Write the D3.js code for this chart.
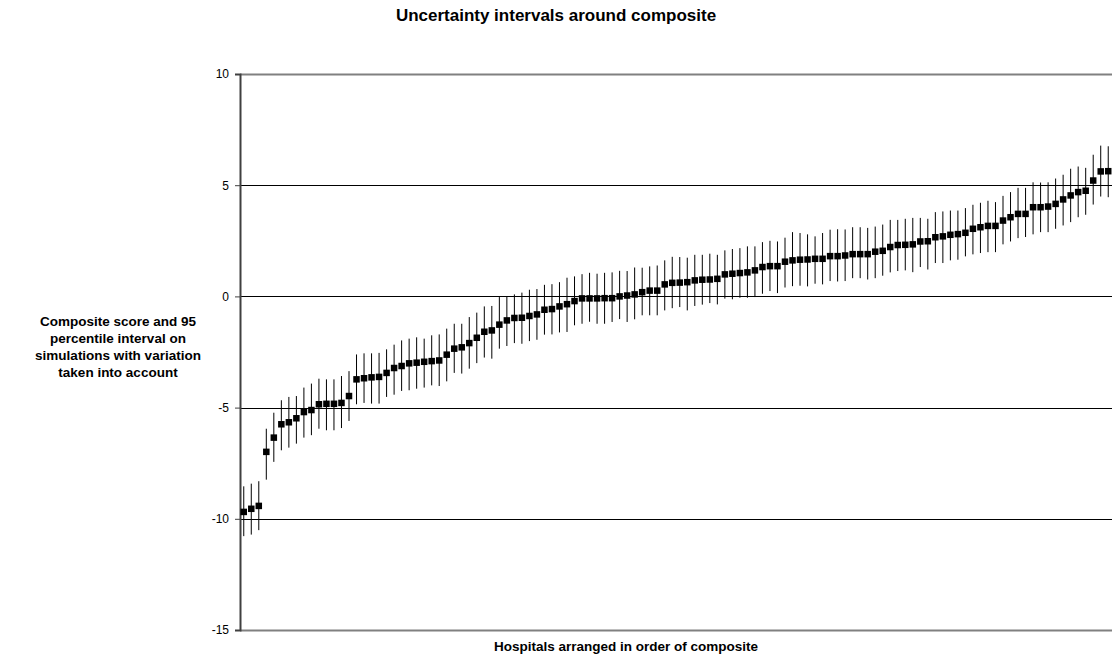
<!DOCTYPE html>
<html>
<head>
<meta charset="utf-8">
<script src="https://cdn.jsdelivr.net/npm/d3@7"></script>
<style>
    body { margin: 0; background: #fff; }
    svg { display: block; font-family: Arial, "Liberation Sans", sans-serif; }
</style>
</head>
<body>
<div id="chart"></div>
<script>
// composite score per hospital, already sorted
const composite = [
    -9.69, -9.55, -9.42, -6.99, -6.35, -5.75, -5.66, -5.48, -5.20, -5.11,
    -4.85, -4.83, -4.83, -4.79, -4.48, -3.73, -3.68, -3.64, -3.62, -3.44,
    -3.22, -3.13, -3.01, -2.98, -2.94, -2.91, -2.88, -2.62, -2.35, -2.29,
    -2.10, -1.86, -1.59, -1.53, -1.27, -1.08, -0.97, -0.96, -0.88, -0.81,
    -0.60, -0.57, -0.45, -0.35, -0.21, -0.09, -0.09, -0.09, -0.08, -0.08,
    0.00, 0.04, 0.09, 0.19, 0.26, 0.26, 0.54, 0.61, 0.62, 0.64,
    0.72, 0.75, 0.76, 0.79, 0.99, 1.02, 1.05, 1.08, 1.17, 1.32,
    1.36, 1.36, 1.56, 1.62, 1.65, 1.66, 1.69, 1.69, 1.81, 1.81,
    1.84, 1.90, 1.90, 1.90, 2.01, 2.05, 2.22, 2.31, 2.32, 2.34,
    2.47, 2.48, 2.66, 2.70, 2.77, 2.80, 2.86, 3.04, 3.11, 3.17,
    3.17, 3.41, 3.56, 3.71, 3.71, 4.01, 4.01, 4.04, 4.16, 4.36,
    4.54, 4.69, 4.75, 5.21, 5.62, 5.63
];

// 97.5th percentile of simulations
const upper = [
    -8.54, -8.42, -8.31, -5.95, -5.23, -4.67, -4.52, -4.48, -4.10, -3.92,
    -3.70, -3.73, -3.73, -3.58, -3.36, -2.61, -2.56, -2.56, -2.54, -2.38,
    -2.17, -1.98, -1.90, -1.84, -1.90, -1.75, -1.71, -1.45, -1.23, -1.23,
    -0.93, -0.73, -0.45, -0.43, -0.03, 0.00, 0.09, 0.17, 0.30, 0.33,
    0.52, 0.55, 0.64, 0.84, 0.90, 1.00, 1.06, 1.02, 1.06, 1.08,
    1.15, 1.14, 1.30, 1.29, 1.35, 1.39, 1.62, 1.78, 1.77, 1.74,
    1.87, 1.87, 1.92, 1.87, 2.07, 2.13, 2.17, 2.25, 2.25, 2.44,
    2.50, 2.47, 2.64, 2.89, 2.85, 2.79, 2.70, 2.85, 3.00, 3.02,
    3.01, 3.11, 3.11, 3.08, 3.14, 3.23, 3.44, 3.44, 3.49, 3.53,
    3.53, 3.49, 3.79, 3.82, 3.86, 3.86, 3.97, 4.12, 4.21, 4.30,
    4.24, 4.52, 4.69, 4.88, 4.88, 5.13, 5.12, 5.13, 5.30, 5.47,
    5.74, 5.84, 5.78, 6.37, 6.78, 6.75
];

// 2.5th percentile of simulations
const lower = [
    -10.78, -10.71, -10.51, -8.24, -7.44, -6.92, -6.80, -6.62, -6.35, -6.24,
    -5.95, -6.02, -6.02, -5.92, -5.60, -4.85, -4.79, -4.82, -4.82, -4.52,
    -4.42, -4.25, -4.22, -4.15, -4.10, -4.00, -4.03, -3.82, -3.44, -3.47,
    -3.25, -3.00, -2.75, -2.80, -2.35, -2.23, -2.10, -2.13, -2.01, -1.95,
    -1.72, -1.71, -1.62, -1.60, -1.30, -1.23, -1.14, -1.23, -1.23, -1.15,
    -1.02, -1.15, -1.03, -0.85, -0.85, -0.85, -0.63, -0.53, -0.48, -0.63,
    -0.43, -0.37, -0.30, -0.36, -0.10, -0.13, -0.06, -0.06, -0.03, 0.12,
    0.24, 0.15, 0.40, 0.46, 0.48, 0.45, 0.57, 0.54, 0.69, 0.67,
    0.69, 0.82, 0.82, 0.76, 0.82, 0.93, 1.08, 1.14, 1.17, 1.09,
    1.32, 1.21, 1.50, 1.50, 1.62, 1.65, 1.80, 1.89, 1.95, 1.99,
    1.99, 2.34, 2.47, 2.62, 2.67, 2.79, 2.89, 2.89, 3.04, 3.19,
    3.34, 3.56, 3.67, 4.13, 4.49, 4.46
];

const yTicks = [-15, -10, -5, 0, 5, 10];
const titleText = 'Uncertainty intervals around composite';
const xTitleText = 'Hospitals arranged in order of composite';
const yTitleLines = [
    'Composite score and 95',
    'percentile interval on',
    'simulations with variation',
    'taken into account'
];

const width = 1112;
const height = 666;
const margin = { top: 74, right: 0, bottom: 36, left: 240 };

const svg = d3.select('#chart')
    .append('svg')
    .attr('width', width)
    .attr('height', height);

const hospitals = composite.map((v, i) => ({
    index: i,
    value: v,
    low: lower[i],
    high: upper[i]
}));

const x = d3.scaleBand()
    .domain(hospitals.map(d => d.index))
    .range([margin.left, width - margin.right]);

const y = d3.scaleLinear()
    .domain([-15, 10])
    .range([height - margin.bottom, margin.top]);

// gridlines (outer ones are the grey plot border)
svg.append('g')
    .selectAll('line')
    .data(yTicks)
    .enter()
    .append('line')
    .attr('x1', margin.left)
    .attr('x2', width)
    .attr('y1', d => Math.round(y(d)) + 0.5)
    .attr('y2', d => Math.round(y(d)) + 0.5)
    .attr('stroke', d => (d === 10 || d === -15) ? '#808080' : '#000')
    .attr('stroke-width', d => (d === 10 || d === -15) ? 2 : 1);

// y axis
const yAxis = d3.axisLeft(y)
    .tickValues(yTicks)
    .tickSize(5)
    .tickPadding(6)
    .tickFormat(d => String(d));

const axisG = svg.append('g')
    .attr('transform', `translate(${margin.left},0)`)
    .call(yAxis);

axisG.select('.domain')
    .attr('stroke', '#404040')
    .attr('stroke-width', 2);
axisG.selectAll('.tick line')
    .attr('stroke', '#404040');
axisG.selectAll('.tick text')
    .style('font-size', '12px')
    .style('font-family', 'Arial, "Liberation Sans", sans-serif')
    .attr('fill', '#000');

// whiskers
svg.append('g')
    .selectAll('line')
    .data(hospitals)
    .enter()
    .append('line')
    .attr('x1', d => x(d.index) + x.bandwidth() / 2)
    .attr('x2', d => x(d.index) + x.bandwidth() / 2)
    .attr('y1', d => y(d.high))
    .attr('y2', d => y(d.low))
    .attr('stroke', '#000')
    .attr('stroke-width', 1);

// composite markers
const markerSize = 6.5;
svg.append('g')
    .selectAll('rect')
    .data(hospitals)
    .enter()
    .append('rect')
    .attr('x', d => x(d.index) + x.bandwidth() / 2 - markerSize / 2)
    .attr('y', d => y(d.value) - markerSize / 2)
    .attr('width', markerSize)
    .attr('height', markerSize)
    .attr('fill', '#000');

// titles
svg.append('text')
    .attr('x', 556)
    .attr('y', 21)
    .attr('text-anchor', 'middle')
    .style('font-size', '17px')
    .style('font-weight', 'bold')
    .text(titleText);

svg.append('text')
    .attr('x', 626)
    .attr('y', 651)
    .attr('text-anchor', 'middle')
    .style('font-size', '13.5px')
    .style('font-weight', 'bold')
    .text(xTitleText);

svg.append('g')
    .selectAll('text')
    .data(yTitleLines)
    .enter()
    .append('text')
    .attr('x', 118)
    .attr('y', (d, i) => 326 + i * 17)
    .attr('text-anchor', 'middle')
    .style('font-size', '13.5px')
    .style('font-weight', 'bold')
    .text(d => d);
</script>
</body>
</html>
